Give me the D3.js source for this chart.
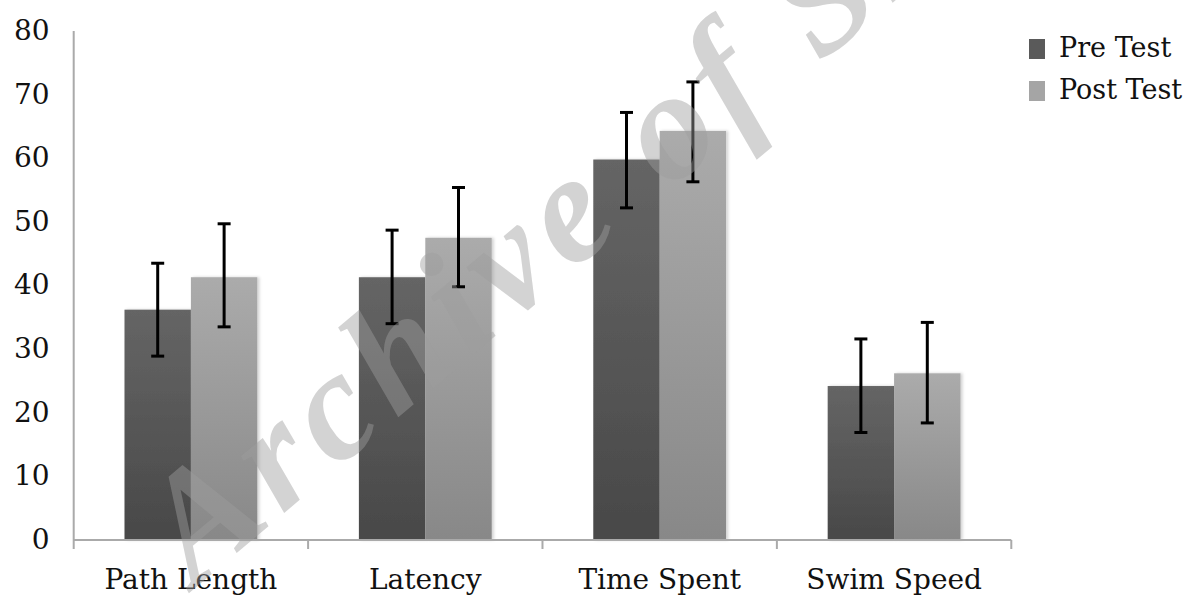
<!DOCTYPE html>
<html><head><meta charset="utf-8">
<script src="https://cdn.jsdelivr.net/npm/d3@7"></script>
<style>body{margin:0;background:#fff}svg{display:block}</style>
</head><body>
<svg id="chart" width="1187" height="598"></svg>
<script>
const categories = ["Path Length", "Latency", "Time Spent", "Swim Speed"];
const seriesNames = ["Pre Test", "Post Test"];
const preValues = [36.2, 41.3, 59.8, 24.2];
const postValues = [41.3, 47.5, 64.3, 26.2];
const preErrLow = [28.9, 34.0, 52.2, 16.9];
const preErrHigh = [43.5, 48.7, 67.2, 31.6];
const postErrLow = [33.5, 39.8, 56.3, 18.4];
const postErrHigh = [49.7, 55.4, 72.0, 34.2];
const yTicks = [0, 10, 20, 30, 40, 50, 60, 70, 80];

(function(){
const svg = d3.select("#chart");
const mLeft = 73.7, mRight = 1011.3, mTop = 31, mBottom = 540;
const font = "'DejaVu Serif', serif";
const fs = 28;

const defs = svg.append("defs");
const gradPre = defs.append("linearGradient").attr("id","gPre").attr("x1",0).attr("y1",0).attr("x2",0).attr("y2",1);
gradPre.append("stop").attr("offset","0%").attr("stop-color","#656565");
gradPre.append("stop").attr("offset","100%").attr("stop-color","#484848");
const gradPost = defs.append("linearGradient").attr("id","gPost").attr("x1",0).attr("y1",0).attr("x2",0).attr("y2",1);
gradPost.append("stop").attr("offset","0%").attr("stop-color","#ababab");
gradPost.append("stop").attr("offset","100%").attr("stop-color","#888888");
const shadow = defs.append("filter").attr("id","sh").attr("x","-10%").attr("y","-10%").attr("width","130%").attr("height","120%");
shadow.append("feDropShadow").attr("dx",2).attr("dy",0).attr("stdDeviation",1.5).attr("flood-color","#000").attr("flood-opacity",0.18);

const x0 = d3.scaleBand().domain(categories).range([mLeft, mRight]).paddingInner(0.4333).paddingOuter(0.2167);
const x1 = d3.scaleBand().domain(seriesNames).range([0, x0.bandwidth()]);
const y = d3.scaleLinear().domain([0, 80]).range([mBottom, mTop]);

const data = categories.map((c, i) => ({
  cat: c,
  vals: [
    {s: seriesNames[0], v: preValues[i], lo: preErrLow[i], hi: preErrHigh[i]},
    {s: seriesNames[1], v: postValues[i], lo: postErrLow[i], hi: postErrHigh[i]}
  ]
}));
const fills = {"Pre Test": "url(#gPre)", "Post Test": "url(#gPost)"};
const legendFills = {"Pre Test": "#5a5a5a", "Post Test": "#a5a5a5"};

const groups = svg.append("g").selectAll("g").data(data).join("g")
  .attr("transform", d => `translate(${x0(d.cat)},0)`);
groups.selectAll("rect").data(d => d.vals).join("rect")
  .attr("x", d => x1(d.s)).attr("width", x1.bandwidth())
  .attr("y", d => y(d.v)).attr("height", d => y(0) - y(d.v))
  .attr("fill", d => fills[d.s]).attr("filter","url(#sh)");

// axes
const yAxis = d3.axisLeft(y).tickValues(yTicks).tickSize(0).tickPadding(24);
const gy = svg.append("g").attr("transform", `translate(${mLeft},0)`).call(yAxis);
gy.select(".domain").attr("stroke","#aaaaaa").attr("stroke-width",2).attr("d", `M0,${mTop}V${mBottom}`);
gy.selectAll("text").attr("font-family", font).attr("font-size", fs).attr("fill","#111").attr("dy","0.3em");

const xAxis = d3.axisBottom(x0).tickSize(0).tickPadding(0);
const gx = svg.append("g").attr("transform", `translate(0,${mBottom})`).call(xAxis);
gx.select(".domain").attr("stroke","#aaaaaa").attr("stroke-width",2).attr("d", `M${mLeft},0H${mRight}`);
gx.selectAll("text").attr("font-family", font).attr("font-size", fs).attr("fill","#111").attr("dy","1.75em");
const bounds = categories.map(c => x0(c) - x0.step()*x0.paddingOuter()).concat([mRight]);
gx.selectAll("line.bnd").data(bounds).join("line").attr("class","bnd")
  .attr("x1", d => d).attr("x2", d => d).attr("y1", 0).attr("y2", 9)
  .attr("stroke","#aaaaaa").attr("stroke-width",2);

// error bars
const eb = groups.selectAll("g.eb").data(d => d.vals).join("g").attr("class","eb")
  .attr("stroke","#000").attr("stroke-width",3);
const cx = d => x1(d.s) + x1.bandwidth()/2;
eb.append("line").attr("x1", cx).attr("x2", cx).attr("y1", d => y(d.lo)).attr("y2", d => y(d.hi));
eb.append("line").attr("x1", d => cx(d)-6.5).attr("x2", d => cx(d)+6.5).attr("y1", d => y(d.hi)).attr("y2", d => y(d.hi));
eb.append("line").attr("x1", d => cx(d)-6.5).attr("x2", d => cx(d)+6.5).attr("y1", d => y(d.lo)).attr("y2", d => y(d.lo));

// legend
const lg = svg.append("g").selectAll("g").data(seriesNames).join("g")
  .attr("transform", (d, i) => `translate(1029,${39 + i*42})`);
lg.append("rect").attr("width",16).attr("height",20).attr("fill", d => legendFills[d]);
lg.append("text").attr("x",30).attr("y",18).text(d => d)
  .attr("font-family", font).attr("font-size",27).attr("fill","#111");

// watermark
svg.append("text").attr("transform","translate(195,588) rotate(-40)")
  .attr("font-family","'Liberation Serif', serif").attr("font-style","italic").attr("font-weight","bold")
  .attr("font-size",155).attr("letter-spacing",10).attr("fill","#9d9d9d").attr("fill-opacity",0.45)
  .text("Archive of SID");
})();
</script>
</body></html>
